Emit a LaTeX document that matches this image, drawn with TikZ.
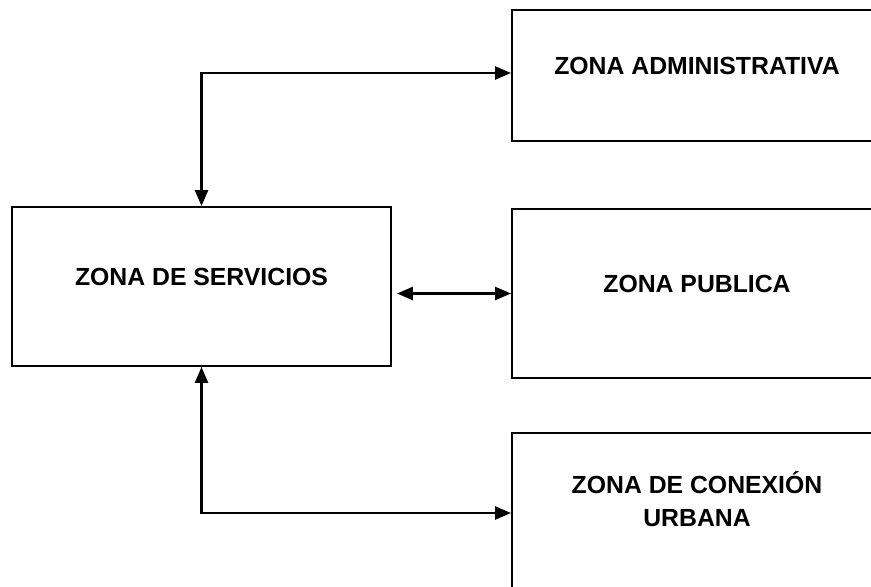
\documentclass[tikz,border=0pt]{standalone}
\usepackage{fontspec}
\setmainfont{Liberation Sans}
\usetikzlibrary{arrows.meta}

\begin{document}
\begin{tikzpicture}[zone/.style={draw, line width=1.1pt, rectangle, align=center,
      font=\fontsize{14.1}{18.8}\selectfont\bfseries, text height=0.36cm, text depth=0.38cm},
    link/.style={draw, line width=1.4pt, {Triangle[length=0.32cm,width=0.26cm]}-{Triangle[length=0.32cm,width=0.26cm]}}]
    \useasboundingbox (0, 0) rectangle (17.42, 11.72);
    \clip (0, 0) rectangle (17.42, 11.72);
    \node [zone, minimum width=7.58cm, minimum height=3.18cm] (serv) at (4.03, 5.99) {ZONA DE SERVICIOS};
    \node [zone, minimum width=7.40cm, minimum height=2.62cm] (adm) at (13.94, 10.21) {ZONA ADMINISTRATIVA};
    \node [zone, minimum width=7.40cm, minimum height=3.38cm] (pub) at (13.94, 5.85) {ZONA PUBLICA};
    \node [zone, minimum width=7.40cm, minimum height=3.20cm, text height=0.9cm, text depth=0.36cm] (con) at (13.94, 1.46) {ZONA DE CONEXIÓN\\URBANA};
    \draw [link] (serv.north) |- ([yshift=0.05cm]adm.west);
    \draw [link] ([xshift=0.1cm]serv.east |- pub.west) -- (pub.west);
    \draw [link] (serv.south) |- (con.west);
  \end{tikzpicture}
\end{document}
